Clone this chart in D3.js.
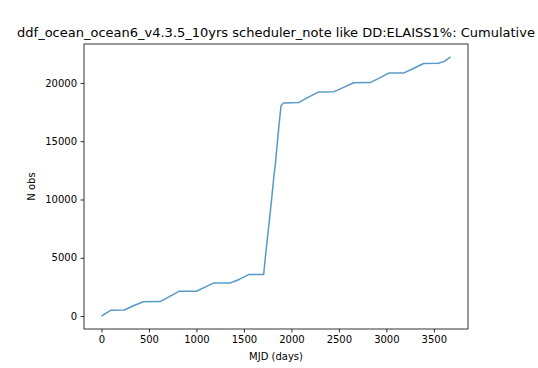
<!DOCTYPE html>
<html>
<head>
<meta charset="utf-8">
<script src="https://cdn.jsdelivr.net/npm/d3@7"></script>
<style>
  body { margin: 0; background: #fff; }
  svg { display: block; font-family: "DejaVu Sans", sans-serif; }
</style>
</head>
<body>
<div id="chart"></div>
<script>
// datos
var titulo = "ddf_ocean_ocean6_v4.3.5_10yrs scheduler_note like DD:ELAISS1%: Cumulative";
var mjd = [0, 100, 240, 330, 440, 620, 720, 815, 1000, 1090, 1180, 1355, 1450, 1550, 1708,
           1733, 1760, 1779, 1800, 1821, 1830, 1842, 1870, 1891, 1919, 2080, 2180, 2288, 2450, 2550,
           2656, 2830, 2930, 3024, 3185, 3290, 3393, 3550, 3610, 3676];
var nobs = [0, 500, 520, 860, 1230, 1240, 1680, 2120, 2130, 2480, 2830, 2840, 3140, 3560, 3570,
            5600, 7600, 9000, 10700, 12400, 12900, 14000, 16400, 18060, 18280, 18330, 18780, 19230, 19250, 19620,
            20020, 20030, 20440, 20850, 20860, 21260, 21670, 21690, 21850, 22230];
var xTicks = [0, 500, 1000, 1500, 2000, 2500, 3000, 3500];
var yTicks = [0, 5000, 10000, 15000, 20000];

var width = 538, height = 368;
var margin = {left: 84, right: 70, top: 44, bottom: 39};

var svg = d3.select("#chart").append("svg")
    .attr("width", width)
    .attr("height", height);

var xMin = d3.min(mjd), xMax = d3.max(mjd);
var yMin = d3.min(nobs), yMax = d3.max(nobs);
var xPad = (xMax - xMin) * 0.05, yPad = (yMax - yMin) * 0.05;

var x = d3.scaleLinear()
    .domain([xMin - xPad, xMax + xPad])
    .range([margin.left, width - margin.right]);
var y = d3.scaleLinear()
    .domain([yMin - yPad, yMax + yPad])
    .range([height - margin.bottom, margin.top]);

var puntos = mjd.map(function(d, i) { return [d, nobs[i]]; });

var linea = d3.line()
    .x(function(d) { return x(d[0]); })
    .y(function(d) { return y(d[1]); });

svg.append("path")
    .datum(puntos)
    .attr("fill", "none")
    .attr("stroke", "#1f77b4")
    .attr("stroke-opacity", 0.75)
    .attr("stroke-width", 1.5)
    .attr("stroke-linejoin", "round")
    .attr("d", linea);

// ejes
var ejeX = svg.append("g")
    .attr("transform", "translate(0," + (height - margin.bottom) + ")")
    .call(d3.axisBottom(x).tickValues(xTicks).tickSize(3.5).tickPadding(3.5).tickFormat(d3.format("d")));
var ejeY = svg.append("g")
    .attr("transform", "translate(" + margin.left + ",0)")
    .call(d3.axisLeft(y).tickValues(yTicks).tickSize(3.5).tickPadding(3.5).tickFormat(d3.format("d")));

[ejeX, ejeY].forEach(function(g) {
    g.select(".domain").remove();
    g.selectAll("line").attr("stroke", "#000").attr("stroke-width", 0.8);
    g.selectAll("text").attr("font-size", 10).attr("fill", "#000")
        .attr("font-family", "DejaVu Sans, sans-serif");
});

svg.append("rect")
    .attr("x", margin.left)
    .attr("y", margin.top)
    .attr("width", width - margin.left - margin.right)
    .attr("height", height - margin.top - margin.bottom)
    .attr("fill", "none")
    .attr("stroke", "#000")
    .attr("stroke-width", 0.8);

// textos
var cx = (margin.left + width - margin.right) / 2;
svg.append("text")
    .attr("x", cx)
    .attr("y", 37)
    .attr("text-anchor", "middle")
    .attr("font-size", 13)
    .text(titulo);

svg.append("text")
    .attr("x", cx)
    .attr("y", 360)
    .attr("text-anchor", "middle")
    .attr("font-size", 10)
    .text("MJD (days)");

svg.append("text")
    .attr("transform", "translate(35," + ((margin.top + height - margin.bottom) / 2) + ") rotate(-90)")
    .attr("text-anchor", "middle")
    .attr("font-size", 10)
    .text("N obs");
</script>
</body>
</html>
